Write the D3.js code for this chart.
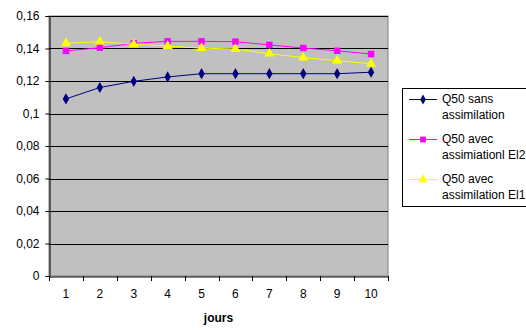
<!DOCTYPE html>
<html><head><meta charset="utf-8">
<script src="https://cdn.jsdelivr.net/npm/d3@7"></script>
<style>body{margin:0;background:#fff;overflow:hidden}svg{display:block;font-family:"Liberation Sans",Arial,sans-serif}</style>
</head><body>
<svg id="c" width="526" height="330"></svg>
<script>
const days = [1,2,3,4,5,6,7,8,9,10];
const sans = [0.109,0.116,0.1198,0.1225,0.1245,0.1245,0.1245,0.1245,0.1245,0.1254];
const avecEl2 = [0.1385,0.1405,0.1432,0.1444,0.1444,0.1442,0.1422,0.1403,0.1386,0.1366];
const avecEl1 = [0.1432,0.1442,0.1426,0.1415,0.1402,0.1397,0.1368,0.1344,0.1325,0.1306];
const yTicks = [0,0.02,0.04,0.06,0.08,0.1,0.12,0.14,0.16];
const seriesNames = [["Q50 sans","assimilation"],["Q50 avec","assimiationl El2"],["Q50 avec","assimilation El1"]];
const seriesData = [sans, avecEl2, avecEl1];
const colors = ["#000080","#FF00FF","#FFFF00"];
const symbols = [d3.symbolDiamond, d3.symbolSquare, d3.symbolTriangle];
const symSizes = [36, 42, 44];

const svg = d3.select("#c");
const L=49, R=388, T=16, B=276;
const x = d3.scaleBand().domain(days).range([L,R]);
const y = d3.scaleLinear().domain([0,0.16]).range([B,T]);
const fmt = d => String(+d.toFixed(2)).replace(".",",");
const FF = "Liberation Sans, Arial, sans-serif";

svg.append("rect").attr("x",L).attr("y",T).attr("width",R-L).attr("height",B-T)
  .attr("fill","#C0C0C0").attr("stroke","#808080").attr("stroke-width",1);

svg.append("g").selectAll("line").data(yTicks.filter(d=>d>0)).join("line")
  .attr("x1",L).attr("x2",R).attr("y1",d=>Math.round(y(d))+0.5).attr("y2",d=>Math.round(y(d))+0.5)
  .attr("stroke","#000").attr("stroke-width",1);

const ya = svg.append("g").attr("transform",`translate(${L+0.5},0)`)
  .call(d3.axisLeft(y).tickValues(yTicks).tickFormat(fmt).tickSize(4).tickPadding(6));
ya.select(".domain").attr("stroke","#000");
ya.selectAll(".tick line").attr("stroke","#000");
ya.selectAll("text").attr("font-size",12).attr("fill","#000").attr("font-family",FF);

const xa = svg.append("g").attr("transform",`translate(0,${B+0.5})`)
  .call(d3.axisBottom(x).tickSize(0).tickPadding(13));
xa.select(".domain").attr("stroke","#000");
xa.selectAll("text").attr("font-size",12).attr("fill","#000").attr("font-family",FF);
const bounds = days.map(d=>x(d)).concat([x(days[days.length-1])+x.bandwidth()]);
svg.append("g").selectAll("line").data(bounds).join("line")
  .attr("x1",d=>Math.round(d)+0.5).attr("x2",d=>Math.round(d)+0.5).attr("y1",B).attr("y2",B+5)
  .attr("stroke","#000");

svg.append("text").attr("x",(L+R)/2).attr("y",322).attr("text-anchor","middle")
  .attr("font-size",12).attr("font-weight","bold").text("jours");

const line = d3.line().x((d,i)=>x(days[i])+x.bandwidth()/2).y(d=>y(d));
seriesData.forEach((s,k)=>{
  svg.append("path").datum(s).attr("d",line).attr("fill","none").attr("stroke",colors[k]).attr("stroke-width",1);
  svg.append("g").selectAll("path").data(s).join("path")
    .attr("transform",(d,i)=>`translate(${x(days[i])+x.bandwidth()/2},${y(d)})`)
    .attr("d",d3.symbol().type(symbols[k]).size(symSizes[k])).attr("fill",colors[k]).attr("stroke","none");
});

// legend
const lg = svg.append("g");
lg.append("rect").attr("x",402.5).attr("y",88.5).attr("width",140).attr("height",118)
  .attr("fill","#fff").attr("stroke","#000");
seriesNames.forEach((nm,k)=>{
  const yy = 99 + k*40;
  lg.append("line").attr("x1",409).attr("x2",437).attr("y1",yy+0.5).attr("y2",yy+0.5).attr("stroke",colors[k]);
  lg.append("path").attr("transform",`translate(423,${yy+0.5})`)
    .attr("d",d3.symbol().type(symbols[k]).size(symSizes[k]-8)).attr("fill",colors[k]);
  lg.append("text").attr("x",442).attr("y",yy+4).attr("font-size",12).text(nm[0]);
  lg.append("text").attr("x",442).attr("y",yy+19.5).attr("font-size",12).text(nm[1]);
});
</script>
</body></html>
